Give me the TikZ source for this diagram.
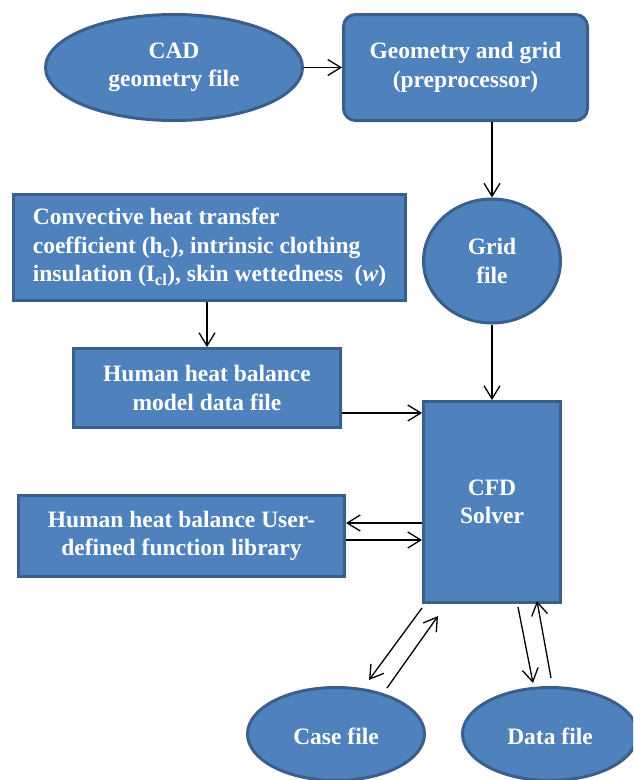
\documentclass[tikz,border=0pt]{standalone}
\usepackage{fontspec}
\setmainfont{Liberation Serif}
\usetikzlibrary{arrows.meta,positioning,calc,shapes.geometric}
\definecolor{boxfill}{HTML}{4F81BD}
\definecolor{boxline}{HTML}{3A5F8B}

\begin{document}
\begin{tikzpicture}[
  x=1pt, y=-1pt,
  blk/.style={draw=boxline, line width=3pt, fill=boxfill, text=white, align=center, inner sep=0pt,
    font=\bfseries\fontsize{23.5}{28.5}\selectfont, execute at begin node={\rule{0pt}{21pt}}},
  rbox/.style={blk, rectangle},
  oval/.style={blk, ellipse},
  arr/.style={-{Straight Barb[length=13pt,width=16pt]}, line width=1.3pt}
]
\clip (0,0) rectangle (633,780);
% top row
\node[oval, minimum width=257pt, minimum height=106pt] (cad) at (174,67.5) {CAD\\geometry file};
\node[rbox, rounded corners=12pt, minimum width=244pt, minimum height=106pt] (geo) at (465.5,67.5) {Geometry and grid\\(preprocessor)};
\node[oval, minimum width=137pt, minimum height=124pt] (grid) at (492,261) {Grid\\file};
% left column
\node[rbox, align=left, minimum width=392pt, minimum height=106pt] (conv) at (209.5,247.5)
  {Convective heat transfer\\coefficient (h\textsubscript{c}), intrinsic clothing\\insulation (I\textsubscript{cl}), skin wettedness\ \ (\textit{w})};
\node[rbox, minimum width=267pt, minimum height=79pt] (model) at (207,388) {Human heat balance\\model data file};
\node[rbox, minimum width=326pt, minimum height=81pt] (udf) at (181.5,536) {Human heat balance User-\\defined function library};
% solver and outputs
\node[rbox, minimum width=137pt, minimum height=201pt] (cfd) at (492,502) {CFD\\Solver};
\node[oval, minimum width=177pt, minimum height=93pt] (case) at (336,734) {Case file};
\node[oval, minimum width=175pt, minimum height=93pt] (data) at (550,734) {Data file};

\draw[arr] (cad.east) -- (geo.west |- cad.east);
\draw[arr] (grid.north |- geo.south) -- (grid.north);
\draw[arr] (model.north |- conv.south) -- (model.north);
\draw[arr] (grid.south) -- (cfd.north |- grid.south) -- (cfd.north);
\draw[arr] ([yshift=-25pt]model.east) -- ([yshift=-25pt]model.east -| cfd.west);
\draw[arr] ([yshift=13pt]udf.east -| cfd.west) -- ([yshift=13pt]udf.east);
\draw[arr] ([yshift=-4pt]udf.east) -- ([yshift=-4pt]udf.east -| cfd.west);
\draw[arr] ($(cfd.south west)+(0,4)$) -- ($(case.north)+(33,-6)$);
\draw[arr] ($(case.north)+(51,2)$) -- ($(cfd.south west)+(16,12)$);
\draw[arr] ($(cfd.south west)+(96,3)$) -- ($(data.north)+(-17,-3)$);
\draw[arr] ($(data.north)+(1,-8)$) -- ($(cfd.south west)+(115,-3)$);
\end{tikzpicture}
\end{document}
